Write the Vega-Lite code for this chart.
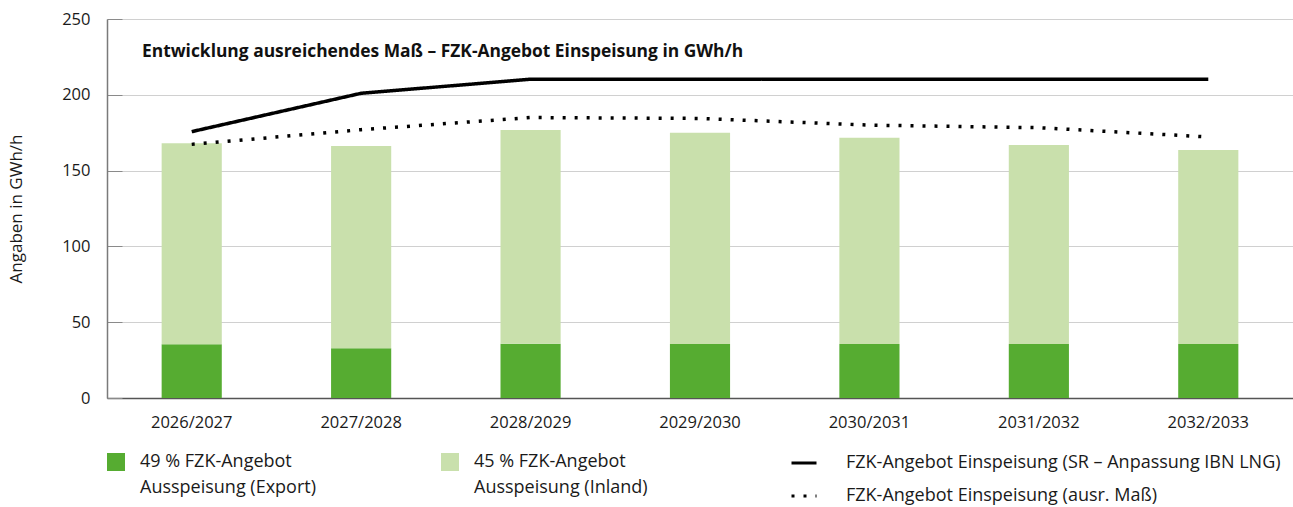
{
  "$schema": "https://vega.github.io/schema/vega-lite/v6.json",
  "width": 1186,
  "height": 379,
  "autosize": {"type": "none"},
  "padding": {"left": 107, "top": 19, "right": 0, "bottom": 109},
  "background": "white",
  "title": {
    "text": "Entwicklung ausreichendes Maß – FZK-Angebot Einspeisung in GWh/h",
    "anchor": "start",
    "frame": "group",
    "font": "Open Sans",
    "fontSize": 17.4,
    "fontWeight": "bold",
    "color": "#111111",
    "offset": 0,
    "baseline": "alphabetic",
    "dx": 35,
    "dy": 63
  },
  "datasets": {
    "bars": [
      {"period": "2026/2027", "series": "49 % FZK-Angebot Ausspeisung (Export)", "value": 35.4},
      {"period": "2026/2027", "series": "45 % FZK-Angebot Ausspeisung (Inland)", "value": 132.6},
      {"period": "2027/2028", "series": "49 % FZK-Angebot Ausspeisung (Export)", "value": 32.8},
      {"period": "2027/2028", "series": "45 % FZK-Angebot Ausspeisung (Inland)", "value": 133.4},
      {"period": "2028/2029", "series": "49 % FZK-Angebot Ausspeisung (Export)", "value": 35.8},
      {"period": "2028/2029", "series": "45 % FZK-Angebot Ausspeisung (Inland)", "value": 141.0},
      {"period": "2029/2030", "series": "49 % FZK-Angebot Ausspeisung (Export)", "value": 35.6},
      {"period": "2029/2030", "series": "45 % FZK-Angebot Ausspeisung (Inland)", "value": 139.4},
      {"period": "2030/2031", "series": "49 % FZK-Angebot Ausspeisung (Export)", "value": 35.6},
      {"period": "2030/2031", "series": "45 % FZK-Angebot Ausspeisung (Inland)", "value": 136.1},
      {"period": "2031/2032", "series": "49 % FZK-Angebot Ausspeisung (Export)", "value": 35.6},
      {"period": "2031/2032", "series": "45 % FZK-Angebot Ausspeisung (Inland)", "value": 131.3},
      {"period": "2032/2033", "series": "49 % FZK-Angebot Ausspeisung (Export)", "value": 35.6},
      {"period": "2032/2033", "series": "45 % FZK-Angebot Ausspeisung (Inland)", "value": 128.0}
    ],
    "lines": [
      {"period": "2026/2027", "series": "FZK-Angebot Einspeisung (SR – Anpassung IBN LNG)", "value": 175.7},
      {"period": "2027/2028", "series": "FZK-Angebot Einspeisung (SR – Anpassung IBN LNG)", "value": 201.0},
      {"period": "2028/2029", "series": "FZK-Angebot Einspeisung (SR – Anpassung IBN LNG)", "value": 210.3},
      {"period": "2029/2030", "series": "FZK-Angebot Einspeisung (SR – Anpassung IBN LNG)", "value": 210.3},
      {"period": "2030/2031", "series": "FZK-Angebot Einspeisung (SR – Anpassung IBN LNG)", "value": 210.3},
      {"period": "2031/2032", "series": "FZK-Angebot Einspeisung (SR – Anpassung IBN LNG)", "value": 210.3},
      {"period": "2032/2033", "series": "FZK-Angebot Einspeisung (SR – Anpassung IBN LNG)", "value": 210.3},
      {"period": "2026/2027", "series": "FZK-Angebot Einspeisung (ausr. Maß)", "value": 167.3},
      {"period": "2027/2028", "series": "FZK-Angebot Einspeisung (ausr. Maß)", "value": 177.0},
      {"period": "2028/2029", "series": "FZK-Angebot Einspeisung (ausr. Maß)", "value": 185.0},
      {"period": "2029/2030", "series": "FZK-Angebot Einspeisung (ausr. Maß)", "value": 184.4},
      {"period": "2030/2031", "series": "FZK-Angebot Einspeisung (ausr. Maß)", "value": 180.0},
      {"period": "2031/2032", "series": "FZK-Angebot Einspeisung (ausr. Maß)", "value": 178.3},
      {"period": "2032/2033", "series": "FZK-Angebot Einspeisung (ausr. Maß)", "value": 172.2}
    ]
  },
  "layer": [
    {
      "data": {"name": "bars"},
      "mark": {"type": "bar"},
      "encoding": {
        "x": {
          "field": "period",
          "type": "nominal",
          "sort": null,
          "scale": {"paddingInner": 0.645, "paddingOuter": 0.3225},
          "axis": {
            "title": null,
            "labelAngle": 0,
            "ticks": false,
            "grid": false,
            "labelPadding": 16,
            "labelFontSize": 16.5,
            "labelColor": "#1a1a1a",
            "domainColor": "#555555",
            "domainWidth": 1.5
          }
        },
        "y": {
          "field": "value",
          "type": "quantitative",
          "stack": "zero",
          "scale": {"domain": [0, 250], "nice": false},
          "axis": {
            "title": "Angaben in GWh/h",
            "values": [0, 50, 100, 150, 200, 250],
            "grid": true,
            "gridColor": "#d0d0d0",
            "gridWidth": 1,
            "tickColor": "#8a8a8a",
            "tickSize": -15,
            "tickWidth": 1,
            "domainColor": "#7a7a7a",
            "domainWidth": 1.5,
            "labelFontSize": 16.5,
            "labelPadding": 32,
            "labelColor": "#1a1a1a",
            "titleFontSize": 17,
            "titleFontWeight": "normal",
            "titleColor": "#1a1a1a",
            "titlePadding": 36
          }
        },
        "color": {
          "field": "series",
          "type": "nominal",
          "scale": {
            "domain": ["49 % FZK-Angebot Ausspeisung (Export)", "45 % FZK-Angebot Ausspeisung (Inland)"],
            "range": ["#56ac31", "#c9e0ac"]
          },
          "legend": {
            "title": null,
            "orient": "none",
            "legendX": 0,
            "legendY": 434,
            "direction": "horizontal",
            "columns": 2,
            "symbolType": "square",
            "symbolSize": 324,
            "symbolStrokeWidth": 0,
            "labelFontSize": 18,
            "labelColor": "#1a1a1a",
            "labelOffset": 15,
            "labelLimit": 500,
            "labelBaseline": "middle",
            "columnPadding": 124,
            "labelExpr": "datum.label == '49 % FZK-Angebot Ausspeisung (Export)' ? ['49 % FZK-Angebot', 'Ausspeisung (Export)'] : ['45 % FZK-Angebot', 'Ausspeisung (Inland)']"
          }
        },
        "order": {"field": "series", "type": "nominal", "sort": "descending"}
      }
    },
    {
      "data": {"name": "lines"},
      "mark": {"type": "line", "color": "#000000", "strokeWidth": 3.5},
      "encoding": {
        "x": {"field": "period", "type": "nominal", "sort": null},
        "y": {"field": "value", "type": "quantitative"},
        "strokeDash": {
          "field": "series",
          "type": "nominal",
          "scale": {
            "domain": ["FZK-Angebot Einspeisung (SR – Anpassung IBN LNG)", "FZK-Angebot Einspeisung (ausr. Maß)"],
            "range": [[1, 0], [3, 9]]
          },
          "legend": {
            "title": null,
            "orient": "none",
            "legendX": 683,
            "legendY": 430,
            "direction": "vertical",
            "symbolType": "stroke",
            "symbolSize": 625,
            "symbolStrokeWidth": 3,
            "symbolStrokeColor": "#000000",
            "labelFontSize": 18,
            "labelColor": "#1a1a1a",
            "labelOffset": 28,
            "labelLimit": 600,
            "rowPadding": 10
          }
        }
      }
    }
  ],
  "config": {
    "font": "Open Sans",
    "view": {"stroke": null},
    "style": {"guide-label": {"lineHeight": 26}}
  }
}
